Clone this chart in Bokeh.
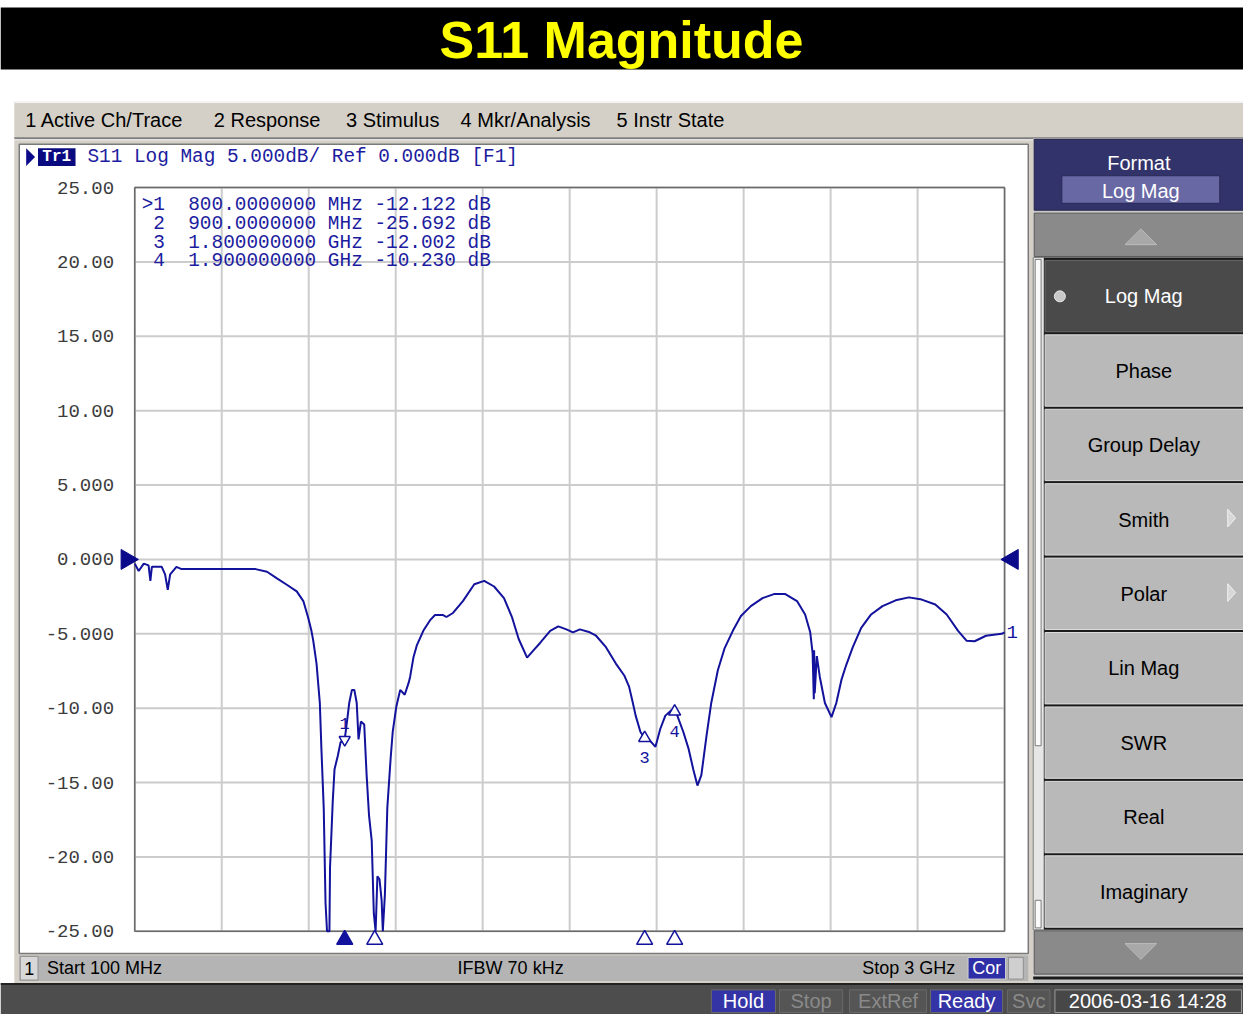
import math
from bokeh.plotting import figure
from bokeh.models import Range1d
from bokeh.embed import file_html
from bokeh.resources import INLINE
from bokeh.core.properties import value

# ---------------- data ----------------
title_text = "S11 Magnitude"
menu_items = ["1 Active Ch/Trace", "2 Response", "3 Stimulus", "4 Mkr/Analysis", "5 Instr State"]
trace_header = "S11 Log Mag 5.000dB/ Ref 0.000dB [F1]"

freq_mhz = [100, 113, 130, 146, 152, 157, 190, 201, 210, 218, 239, 256, 503, 541, 574, 607,
            640, 662, 678, 689, 695, 706, 717, 722, 730, 736, 741, 749, 751, 760, 766, 777,
            786, 800, 810, 815, 824, 832, 840, 846, 854, 865, 873, 881, 890, 897, 903, 909,
            916, 923, 927, 934, 942, 953, 960, 972, 985, 1000, 1013, 1018, 1029, 1040, 1062,
            1084, 1101, 1128, 1139, 1161, 1194, 1232, 1265, 1298, 1331, 1358, 1380, 1408,
            1430, 1452, 1485, 1512, 1539, 1561, 1584, 1617, 1638, 1671, 1704, 1732, 1748,
            1759, 1770, 1786, 1800, 1814, 1836, 1852, 1869, 1891, 1907, 1929, 1946, 1962,
            1976, 1989, 2006, 2022, 2044, 2066, 2094, 2121, 2154, 2193, 2231, 2269, 2308,
            2335, 2352, 2360, 2364, 2365, 2367, 2374, 2384, 2401, 2423, 2439, 2456, 2472,
            2494, 2522, 2555, 2593, 2637, 2681, 2724, 2769, 2807, 2845, 2873, 2900, 2938,
            2990, 3000]
s11_db = [-0.28, -0.78, -0.28, -0.40, -1.44, -0.50, -0.50, -1.00, -2.04, -1.00, -0.50, -0.65,
          -0.65, -0.83, -1.27, -1.70, -2.15, -2.80, -3.90, -4.80, -5.46, -7.00, -9.65, -12.6,
          -16.7, -23.1, -25.0, -25.0, -20.7, -16.3, -14.1, -13.2, -12.3, -12.1, -10.5, -9.65,
          -8.77, -8.77, -9.65, -12.1, -10.9, -11.1, -14.5, -17.2, -18.9, -23.8, -25.0, -21.3,
          -21.5, -22.9, -25.0, -22.5, -16.7, -13.4, -11.6, -9.9, -8.77, -9.1, -8.3, -7.9,
          -6.6, -5.8, -4.8, -4.1, -3.74, -3.74, -3.87, -3.6, -2.8, -1.67, -1.44, -1.82, -2.6,
          -3.9, -5.35, -6.6, -6.1, -5.6, -4.8, -4.5, -4.7, -4.9, -4.7, -4.9, -5.13, -5.9,
          -7.0, -7.8, -8.55, -9.5, -10.5, -11.6, -12.0, -12.1, -12.6, -11.4, -10.5, -10.1,
          -10.4, -11.6, -12.7, -14.1, -15.2, -14.5, -11.9, -9.65, -7.45, -6.0, -4.8, -3.8,
          -3.14, -2.6, -2.33, -2.33, -2.8, -3.7, -4.9, -6.3, -9.4, -6.1, -9.0, -6.5, -7.9,
          -9.65, -10.6, -9.65, -8.1, -7.1, -5.9, -4.6, -3.7, -3.14, -2.75, -2.55, -2.7, -3.03,
          -3.7, -4.8, -5.46, -5.5, -5.13, -5.0, -4.9]
assert len(freq_mhz) == len(s11_db)

marker_ids = ["1", "2", "3", "4"]
marker_freq = [800.0, 900.0, 1800.0, 1900.0]
marker_db = [-12.122, -25.692, -12.002, -10.230]
active_marker = 0

x_grid = [100, 390, 680, 970, 1260, 1550, 1840, 2130, 2420, 2710, 3000]
y_ticks = [25, 20, 15, 10, 5, 0, -5, -10, -15, -20, -25]
y_tick_labels = ["25.00", "20.00", "15.00", "10.00", "5.000", "0.000",
                 "-5.000", "-10.00", "-15.00", "-20.00", "-25.00"]
ref_level = 0.0

start_text = "Start 100 MHz"
ifbw_text = "IFBW 70 kHz"
stop_text = "Stop 3 GHz"
softkey_title = "Format"
softkey_value = "Log Mag"
softkeys = ["Log Mag", "Phase", "Group Delay", "Smith", "Polar", "Lin Mag", "SWR", "Real", "Imaginary"]
softkey_submenu = [False, False, False, True, True, False, False, False, False]
status_items = ["Hold", "Stop", "ExtRef", "Ready", "Svc"]
status_active = [True, False, False, True, False]
timestamp = "2006-03-16 14:28"

# ---------------- layout (screen coordinates of a 1259 x 1030 screen) ----------------
W, H = 1243, 1014
SW, SH = 1259, 1030
GX0, GX1 = 136.0, 1017.0
GY0, GY1 = 190.0, 945.5
F_START, F_STOP = x_grid[0], x_grid[-1]
DB_TOP, DB_BOT = y_ticks[0], y_ticks[-1]
kx = (F_STOP - F_START) / (GX1 - GX0)
ky = (DB_TOP - DB_BOT) / (GY1 - GY0)

p = figure(width=W, height=H,
           x_range=Range1d(F_START - GX0 * kx, F_STOP + (SW - GX1) * kx),
           y_range=Range1d(DB_BOT - (SH - GY1) * ky, DB_TOP + GY0 * ky),
           output_backend="svg", toolbar_location=None, min_border=0,
           x_axis_location=None, y_axis_location=None, outline_line_color=None,
           background_fill_color="white", border_fill_color="white")
p.extra_x_ranges = {"px": Range1d(0, SW)}
p.extra_y_ranges = {"py": Range1d(SH, 0)}
p.xgrid.visible = False
p.ygrid.visible = False

SANS = "Liberation Sans"
MONO = "Liberation Mono"
TRACE = "#12129c"
NB = "\u00a0"


def box(l, t, r, b, fill, line=None, lw=1.0):
    p.quad(left=[l], right=[r], top=[t], bottom=[b], fill_color=fill,
           line_color=line, line_width=lw, x_range_name="px", y_range_name="py")


def hline(x0, x1, y, color, lw=1.0):
    p.segment(x0=[x0], x1=[x1], y0=[y], y1=[y], line_color=color, line_width=lw,
              x_range_name="px", y_range_name="py")


def txt(x, y, s, size, color, font=SANS, align="left", style="normal"):
    p.text(x=[x], y=[y], text=[s], text_font=value(font), text_font_size=f"{size}px",
           text_color=color, text_align=align, text_baseline="middle",
           text_font_style=style, x_range_name="px", y_range_name="py")


def tri(xs, ys, fill, line=None):
    p.patch(x=xs, y=ys, fill_color=fill, line_color=line, x_range_name="px", y_range_name="py")


# title bar
box(0, 7, SW, 70, "black")
txt(629, 40, title_text, 52, "#ffff00", style="bold", align="center")

# menu bar
box(14, 102, SW, 140, "#d4d0c8")
hline(14, SW, 103, "#f4f4f4", 2)
hline(14, SW, 140, "#808080", 2)
menu_x = [25, 216, 350, 466, 624]
for mx, item in zip(menu_x, menu_items):
    txt(mx, 121, item, 20, "black")

# main panel
box(14, 142, 1046, 998, "#d4d0c8")
box(19, 146, 1041, 968, "white", "#7a7a7a", 1.5)

# trace header
tri([26, 35, 26], [150, 159, 168], "#0a0a8a")
box(38, 150, 76, 168, "#0a0a80")
txt(57, 159, "Tr1", 16, "white", font=MONO, align="center", style="bold")
txt(88, 159, trace_header, 19.4, "#1c1ca0", font=MONO)

# grid
n = len(x_grid)
p.segment(x0=x_grid, x1=x_grid, y0=[DB_BOT] * n, y1=[DB_TOP] * n, line_color="#cccccc", line_width=2)
m = len(y_ticks)
p.segment(x0=[F_START] * m, x1=[F_STOP] * m, y0=y_ticks, y1=y_ticks, line_color="#cccccc", line_width=2)
p.quad(left=[F_START], right=[F_STOP], top=[DB_TOP], bottom=[DB_BOT], fill_color=None,
       line_color="#6a6a6a", line_width=1.5)

# y tick labels
p.text(x=[115] * m, y=y_ticks, text=y_tick_labels, text_font=value(MONO), text_font_size="19px",
       text_color="#3c3c3c", text_align="right", text_baseline="middle", x_range_name="px")

# marker table
rows = []
for i, (mid, f, d) in enumerate(zip(marker_ids, marker_freq, marker_db)):
    fs = f"{f:.7f} MHz" if f < 1000 else f"{f / 1000:.9f} GHz"
    rows.append(f"{'>' if i == active_marker else ' '}{mid}  {fs} {d:.3f} dB".replace(" ", NB))
for i, r in enumerate(rows):
    txt(143, 208 + i * 19, r, 19.4, "#1c1ca0", font=MONO)

# trace
p.line(freq_mhz, s11_db, line_color=TRACE, line_width=2)

# reference level arrows
p.scatter(x=[128], y=[ref_level], marker="triangle", size=20, angle=-math.pi / 2,
          fill_color="#0a0a8a", line_color="#0a0a8a", x_range_name="px")
p.scatter(x=[1025], y=[ref_level], marker="triangle", size=20, angle=math.pi / 2,
          fill_color="#0a0a8a", line_color="#0a0a8a", x_range_name="px")
p.text(x=[freq_mhz[-1]], y=[s11_db[-1]], text=["1"], x_offset=2, text_font=value(MONO),
       text_font_size="19px", text_color=TRACE, text_baseline="middle")

# on-trace markers
for i, (mid, f, d) in enumerate(zip(marker_ids, marker_freq, marker_db)):
    if d < DB_BOT:
        continue
    if i == active_marker:
        p.scatter(x=[f], y=[d], marker="inverted_triangle", size=11, fill_color="white",
                  line_color=TRACE, line_width=1.5)
        p.text(x=[f], y=[d], text=[mid], y_offset=-16, text_font=value(MONO), text_font_size="17px",
               text_color=TRACE, text_align="center", text_baseline="middle")
    else:
        p.scatter(x=[f], y=[d], marker="triangle", size=12, fill_color="white",
                  line_color=TRACE, line_width=1.5)
        p.text(x=[f], y=[d], text=[mid], y_offset=20, text_font=value(MONO), text_font_size="17px",
               text_color=TRACE, text_align="center", text_baseline="middle")

# bottom marker indicators
for i, f in enumerate(marker_freq):
    active = i == active_marker
    p.scatter(x=[f], y=[954], marker="triangle", size=16,
              fill_color=TRACE if active else "white", line_color=TRACE, line_width=1.5,
              y_range_name="py")

# chart status bar
box(19, 970, 1041, 996, "#b4b4b4")
box(20, 971, 38, 995, "#d8d8d8", "#909090")
txt(29, 983, "1", 18, "black", align="center")
txt(47, 983, start_text, 18, "black")
txt(463, 983, ifbw_text, 18, "black")
txt(967, 983, stop_text, 18, "black", align="right")
box(980, 972, 1018, 994, "#2e2ea6", "#d0d0d0")
txt(999, 983, "Cor", 18, "white", align="center")
box(1021, 972, 1036, 994, "#cfcfcf", "#909090")

# bottom status bar
box(0, 998, SW, SH, "#4d4d4d")
hline(0, SW, 999, "#222222", 2)
status_x = [(720, 785), (789, 853), (860, 938), (942, 1015), (1020, 1063)]
for (l, r), s, act in zip(status_x, status_items, status_active):
    box(l, 1005, r, 1028, "#3434a6" if act else "#555555", "#6a6a6a")
    txt((l + r) / 2, 1016, s, 20, "white" if act else "#8a8a8a", align="center")
box(1068, 1005, 1257, 1028, "#474747", "#9a9a9a")
txt(1162, 1016, timestamp, 20, "white", align="center")

# softkey panel
box(1046, 140, SW, 998, "#c8c8c8")
box(1047, 141, SW, 213, "#33336b", "#222244")
txt(1153, 165, softkey_title, 20, "white", align="center")
box(1075, 178, 1235, 206, "#6868a4", "#2a2a55")
txt(1155, 193, softkey_value, 20, "white", align="center")
box(1047, 216, SW, 260, "#8a8a8a", "#5a5a5a")
tri([1139, 1155, 1171], [248, 232, 248], "#a8a8a8", "#bcbcbc")

box(1046, 261, 1057, 944, "#e6e6e6", "#808080")
box(1048, 263, 1054, 757, "#fafafa", "#7a7a7a")
box(1048, 914, 1054, 942, "#fafafa", "#7a7a7a")
box(1057, 261, SW, 944, "#1a1a1a")
top = 263.0
for i, (k, sub) in enumerate(zip(softkeys, softkey_submenu)):
    t = top + i * 75.6
    sel = i == 0
    box(1058, t + 1, SW, t + 73.5, "#4a4a4a" if sel else "#b9b9b9", "#dedede" if not sel else "#6a6a6a")
    txt(1158, t + 37.5, k, 20, "white" if sel else "black", align="center")
    if sel:
        p.scatter(x=[1073], y=[t + 37.5], marker="circle", size=11, fill_color="#c8c8c8",
                  line_color="#e8e8e8", x_range_name="px", y_range_name="py")
    if sub:
        tri([1243, 1251, 1243], [t + 27, t + 36, t + 45], "#d8d8d8", "#f0f0f0")
box(1047, 945, SW, 989, "#8a8a8a", "#5a5a5a")
tri([1139, 1155, 1171], [958, 974, 958], "#a8a8a8", "#bcbcbc")
hline(1046, SW, 993, "#1a1a1a", 3)

open("out.html", "w").write(file_html(p, INLINE))
